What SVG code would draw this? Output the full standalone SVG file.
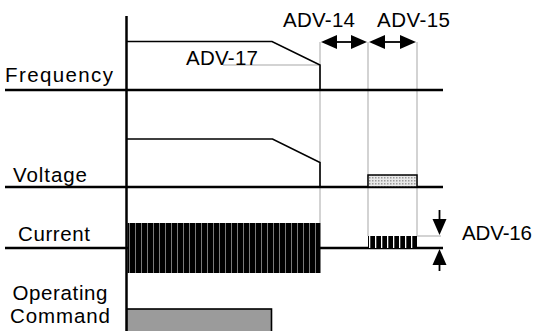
<svg xmlns="http://www.w3.org/2000/svg" width="538" height="331" viewBox="0 0 538 331">
<style>
text{font-family:"Liberation Sans",Arial,sans-serif;font-size:20.5px;fill:#000}
.ax{stroke:#000;stroke-width:2.5;fill:none}
.sig{stroke:#000;stroke-width:1.6;fill:none}
.g{stroke:#c4c4c4;stroke-width:1.5;fill:none}
.arr{stroke:#000;stroke-width:1.8;fill:none}
.hd{fill:#000}
</style>
<defs>
<pattern id="stripeG" x="0" y="0" width="6" height="10" patternUnits="userSpaceOnUse">
<rect width="6" height="10" fill="#000"/>
<rect x="3" width="1" height="10" fill="#7a7a7a"/>
</pattern>
<pattern id="stripeW" x="0" y="0" width="6" height="10" patternUnits="userSpaceOnUse">
<rect width="6" height="10" fill="#000"/>
<rect x="3" width="1.3" height="10" fill="#fff"/>
</pattern>
<pattern id="dots" x="0" y="0" width="3" height="3" patternUnits="userSpaceOnUse">
<rect width="3" height="3" fill="#e8e8e8"/>
<rect width="1.5" height="1.5" fill="#9a9a9a"/>
</pattern>
<path id="head" d="M0,0 L-16,-7 L-16,7 Z"/>
</defs>

<g id="guides">
<line class="g" x1="320" y1="42" x2="320" y2="223"/>
<line class="g" x1="368" y1="42" x2="368" y2="236"/>
<line class="g" x1="417" y1="42" x2="417" y2="236"/>
<line class="g" x1="223" y1="65" x2="320" y2="65"/>
<line class="g" x1="417" y1="236" x2="441" y2="236"/>
</g>

<g id="axes">
<line class="ax" x1="126.5" y1="16" x2="126.5" y2="331"/>
<line class="ax" x1="5" y1="90" x2="443" y2="90"/>
<line class="ax" x1="5" y1="187" x2="443" y2="187"/>
<line class="ax" x1="5" y1="248" x2="443" y2="248"/>
</g>

<g id="frequency">
<polyline class="sig" points="127,41.5 272,41.5 320,65 320,90"/>
<text x="5" y="82" textLength="108" lengthAdjust="spacing">Frequency</text>
<text x="186" y="65" textLength="72" lengthAdjust="spacing">ADV-17</text>
</g>

<g id="voltage">
<polyline class="sig" points="127,139 272.5,139 320,162.5 320,187"/>
<rect x="368" y="175" width="49" height="12" fill="url(#dots)" stroke="#000" stroke-width="1.5"/>
<text x="13" y="182" textLength="74" lengthAdjust="spacing">Voltage</text>
</g>

<g id="current">
<rect x="127.5" y="223" width="193" height="50" fill="url(#stripeG)"/>
<rect x="368" y="236" width="49" height="12" fill="url(#stripeW)"/>
<text x="18" y="241" textLength="72" lengthAdjust="spacing">Current</text>
</g>

<g id="command">
<rect x="127" y="309" width="144.5" height="25" fill="#9b9b9b" stroke="#000" stroke-width="1.6"/>
<text x="12.5" y="300" textLength="95" lengthAdjust="spacing">Operating</text>
<text x="10" y="323" textLength="100" lengthAdjust="spacing">Command</text>
</g>

<g id="connectors">
<line class="arr" x1="330" y1="42" x2="358" y2="42"/>
<use href="#head" class="hd" transform="translate(321,42) rotate(180)"/>
<use href="#head" class="hd" transform="translate(367,42)"/>
<line class="arr" x1="378" y1="42" x2="407" y2="42"/>
<use href="#head" class="hd" transform="translate(369,42) rotate(180)"/>
<use href="#head" class="hd" transform="translate(416,42)"/>
<line class="arr" x1="439.5" y1="210" x2="439.5" y2="225"/>
<use href="#head" class="hd" transform="translate(439.5,235) rotate(90)"/>
<line class="arr" x1="439.5" y1="271" x2="439.5" y2="258"/>
<use href="#head" class="hd" transform="translate(439.5,249) rotate(-90)"/>
</g>

<g id="labels">
<text x="283" y="27" textLength="72" lengthAdjust="spacing">ADV-14</text>
<text x="377" y="27" textLength="73" lengthAdjust="spacing">ADV-15</text>
<text x="462" y="240" textLength="70" lengthAdjust="spacing">ADV-16</text>
</g>
</svg>
